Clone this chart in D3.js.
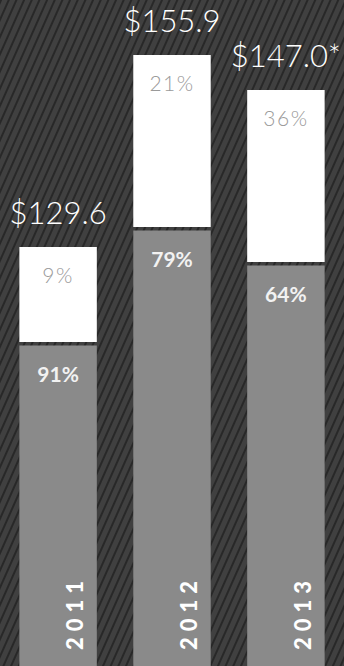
<!DOCTYPE html>
<html>
<head>
<meta charset="utf-8">
<script src="https://cdn.jsdelivr.net/npm/d3@7"></script>
<style>
  html, body { margin: 0; padding: 0; background: #3a3a3a; }
  svg { display: block; }
</style>
</head>
<body>
<div id="chart"></div>
<script>
const years = ["2011", "2012", "2013"];
const totalLabels = ["$129.6", "$155.9", "$147.0*"];
const totals = [129.6, 155.9, 147.0];
const topShare = [9, 21, 36];      // white segment, %
const bottomShare = [91, 79, 64];  // grey segment, %

const width = 344, height = 666;

const svg = d3.select("#chart")
    .append("svg")
    .attr("width", width)
    .attr("height", height);

// striped background
const defs = svg.append("defs");
const pat = defs.append("pattern")
    .attr("id", "stripes")
    .attr("patternUnits", "userSpaceOnUse")
    .attr("width", 7)
    .attr("height", 7)
    .attr("patternTransform", "rotate(24)");
pat.append("rect").attr("width", 7).attr("height", 7).attr("fill", "#404040");
pat.append("rect").attr("width", 2).attr("height", 7).attr("fill", "#282828");

svg.append("rect")
    .attr("width", width)
    .attr("height", height)
    .attr("fill", "url(#stripes)");

const x = d3.scaleBand()
    .domain(years)
    .range([0, width])
    .paddingInner(0.32)
    .paddingOuter(0.17);

// the artwork isn't drawn to scale, so the value axis is calibrated piecewise to it
const y = d3.scaleLinear()
    .domain(d3.sort(totals))
    .range([247, 90, 55]);

// height of the white (top) segment, also calibrated to the artwork
const topH = d3.scaleLinear()
    .domain([9, 21])
    .range([95, 172])
    .clamp(true);

const gap = 3.5;

const data = years.map((yr, i) => ({
    year: yr,
    total: totals[i],
    label: totalLabels[i],
    top: topShare[i],
    bottom: bottomShare[i]
}));

const bars = svg.selectAll("g.bar")
    .data(data)
    .enter()
    .append("g")
    .attr("class", "bar");

// grey lower part
bars.append("rect")
    .attr("x", d => x(d.year))
    .attr("y", d => y(d.total) + topH(d.top) + gap)
    .attr("width", x.bandwidth())
    .attr("height", d => height - (y(d.total) + topH(d.top) + gap))
    .attr("fill", "#8a8a8a");

// white upper part
bars.append("rect")
    .attr("x", d => x(d.year))
    .attr("y", d => y(d.total))
    .attr("width", x.bandwidth())
    .attr("height", d => topH(d.top))
    .attr("fill", "#ffffff");

// totals above the bars
bars.append("text")
    .attr("x", d => x(d.year) + x.bandwidth() / 2)
    .attr("y", d => y(d.total) - 23)
    .attr("text-anchor", "middle")
    .attr("font-family", "Lato, sans-serif")
    .attr("font-weight", 300)
    .attr("font-size", 31)
    .attr("fill", "#ffffff")
    .text(d => d.label);

// % in the white part
bars.append("text")
    .attr("x", d => x(d.year) + x.bandwidth() / 2)
    .attr("y", d => y(d.total) + 36)
    .attr("text-anchor", "middle")
    .attr("font-family", "Lato, sans-serif")
    .attr("font-weight", 300)
    .attr("font-size", 21)
    .attr("letter-spacing", 1.5)
    .attr("fill", "#9a9a9a")
    .text(d => d.top + "%");

// % in the grey part
bars.append("text")
    .attr("x", d => x(d.year) + x.bandwidth() / 2)
    .attr("y", d => y(d.total) + topH(d.top) + gap + 36)
    .attr("text-anchor", "middle")
    .attr("font-family", "Lato, sans-serif")
    .attr("font-weight", 700)
    .attr("font-size", 21)
    .attr("fill", "#f2f2f2")
    .text(d => d.bottom + "%");

// year, rotated, at the foot of each bar
bars.append("text")
    .attr("transform", d => "translate(" + (x(d.year) + x.bandwidth() / 2 + 25) + "," + (height - 16) + ") rotate(-90)")
    .attr("text-anchor", "start")
    .attr("font-family", "Lato, sans-serif")
    .attr("font-weight", 900)
    .attr("font-size", 22)
    .attr("letter-spacing", 6)
    .attr("fill", "#ffffff")
    .text(d => d.year);
</script>
</body>
</html>
